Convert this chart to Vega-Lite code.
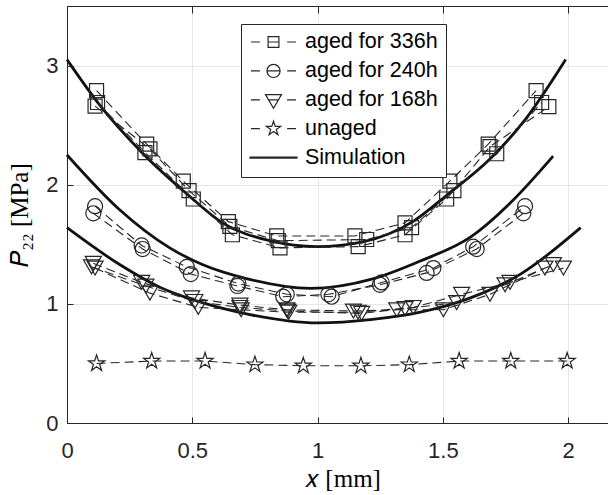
{
  "$schema": "https://vega.github.io/schema/vega-lite/v6.json",
  "width": 541,
  "height": 417,
  "autosize": {"type": "none"},
  "padding": {"left": 67, "top": 6, "right": 0, "bottom": 72},
  "background": "white",
  "config": {
    "view": {"stroke": null},
    "axis": {
      "labelFont": "Liberation Sans",
      "labelFontSize": 22,
      "labelColor": "#262626",
      "labelFlush": false,
      "labelOverlap": false,
      "domainColor": "#262626",
      "domainWidth": 1,
      "tickColor": "#262626",
      "tickWidth": 1,
      "tickSize": -6,
      "gridColor": "#e6e6e6",
      "gridWidth": 1,
      "titleFont": "Liberation Serif",
      "titleFontSize": 25,
      "titleFontWeight": "normal",
      "titleColor": "#000000"
    }
  },
  "datasets": {
    "sim": [
      {"curve": "s1", "x": 0.0, "y": 3.05}, {"curve": "s1", "x": 0.13, "y": 2.67}, {"curve": "s1", "x": 0.29, "y": 2.29},
      {"curve": "s1", "x": 0.48, "y": 1.92}, {"curve": "s1", "x": 0.62, "y": 1.68}, {"curve": "s1", "x": 0.81, "y": 1.53},
      {"curve": "s1", "x": 1.0, "y": 1.48}, {"curve": "s1", "x": 1.18, "y": 1.52}, {"curve": "s1", "x": 1.38, "y": 1.69},
      {"curve": "s1", "x": 1.52, "y": 1.92}, {"curve": "s1", "x": 1.69, "y": 2.22}, {"curve": "s1", "x": 1.83, "y": 2.55},
      {"curve": "s1", "x": 1.99, "y": 3.05},
      {"curve": "s2", "x": 0.0, "y": 2.25}, {"curve": "s2", "x": 0.21, "y": 1.79}, {"curve": "s2", "x": 0.41, "y": 1.47},
      {"curve": "s2", "x": 0.54, "y": 1.33}, {"curve": "s2", "x": 0.72, "y": 1.21}, {"curve": "s2", "x": 0.97, "y": 1.13},
      {"curve": "s2", "x": 1.22, "y": 1.21}, {"curve": "s2", "x": 1.41, "y": 1.36}, {"curve": "s2", "x": 1.61, "y": 1.56},
      {"curve": "s2", "x": 1.78, "y": 1.87}, {"curve": "s2", "x": 1.94, "y": 2.24},
      {"curve": "s3", "x": 0.0, "y": 1.64}, {"curve": "s3", "x": 0.21, "y": 1.33}, {"curve": "s3", "x": 0.37, "y": 1.14},
      {"curve": "s3", "x": 0.54, "y": 1.01}, {"curve": "s3", "x": 0.73, "y": 0.91}, {"curve": "s3", "x": 1.0, "y": 0.84},
      {"curve": "s3", "x": 1.22, "y": 0.87}, {"curve": "s3", "x": 1.41, "y": 0.93}, {"curve": "s3", "x": 1.61, "y": 1.05},
      {"curve": "s3", "x": 1.81, "y": 1.25}, {"curve": "s3", "x": 2.05, "y": 1.64}
    ],
    "exp": [
      {"group": "aged for 336h", "rep": 1, "x": 0.118, "y": 2.79}, {"group": "aged for 336h", "rep": 1, "x": 0.318, "y": 2.34},
      {"group": "aged for 336h", "rep": 1, "x": 0.464, "y": 2.03}, {"group": "aged for 336h", "rep": 1, "x": 0.644, "y": 1.69},
      {"group": "aged for 336h", "rep": 1, "x": 0.837, "y": 1.57}, {"group": "aged for 336h", "rep": 1, "x": 1.149, "y": 1.57},
      {"group": "aged for 336h", "rep": 1, "x": 1.349, "y": 1.68}, {"group": "aged for 336h", "rep": 1, "x": 1.528, "y": 2.03},
      {"group": "aged for 336h", "rep": 1, "x": 1.681, "y": 2.34}, {"group": "aged for 336h", "rep": 1, "x": 1.872, "y": 2.79},
      {"group": "aged for 336h", "rep": 2, "x": 0.112, "y": 2.66}, {"group": "aged for 336h", "rep": 2, "x": 0.331, "y": 2.30},
      {"group": "aged for 336h", "rep": 2, "x": 0.487, "y": 1.95}, {"group": "aged for 336h", "rep": 2, "x": 0.650, "y": 1.65},
      {"group": "aged for 336h", "rep": 2, "x": 0.843, "y": 1.53}, {"group": "aged for 336h", "rep": 2, "x": 1.196, "y": 1.54},
      {"group": "aged for 336h", "rep": 2, "x": 1.375, "y": 1.64}, {"group": "aged for 336h", "rep": 2, "x": 1.544, "y": 1.95},
      {"group": "aged for 336h", "rep": 2, "x": 1.715, "y": 2.26}, {"group": "aged for 336h", "rep": 2, "x": 1.894, "y": 2.69},
      {"group": "aged for 336h", "rep": 3, "x": 0.122, "y": 2.69}, {"group": "aged for 336h", "rep": 3, "x": 0.311, "y": 2.27},
      {"group": "aged for 336h", "rep": 3, "x": 0.504, "y": 1.88}, {"group": "aged for 336h", "rep": 3, "x": 0.660, "y": 1.58},
      {"group": "aged for 336h", "rep": 3, "x": 0.850, "y": 1.47}, {"group": "aged for 336h", "rep": 3, "x": 1.162, "y": 1.48},
      {"group": "aged for 336h", "rep": 3, "x": 1.349, "y": 1.58}, {"group": "aged for 336h", "rep": 3, "x": 1.515, "y": 1.88},
      {"group": "aged for 336h", "rep": 3, "x": 1.688, "y": 2.32}, {"group": "aged for 336h", "rep": 3, "x": 1.923, "y": 2.655},
      {"group": "aged for 240h", "rep": 1, "x": 0.112, "y": 1.82}, {"group": "aged for 240h", "rep": 1, "x": 0.298, "y": 1.49},
      {"group": "aged for 240h", "rep": 1, "x": 0.478, "y": 1.31}, {"group": "aged for 240h", "rep": 1, "x": 0.684, "y": 1.17},
      {"group": "aged for 240h", "rep": 1, "x": 0.877, "y": 1.08}, {"group": "aged for 240h", "rep": 1, "x": 1.056, "y": 1.06},
      {"group": "aged for 240h", "rep": 1, "x": 1.256, "y": 1.18}, {"group": "aged for 240h", "rep": 1, "x": 1.462, "y": 1.30},
      {"group": "aged for 240h", "rep": 1, "x": 1.621, "y": 1.48}, {"group": "aged for 240h", "rep": 1, "x": 1.828, "y": 1.82},
      {"group": "aged for 240h", "rep": 2, "x": 0.105, "y": 1.76}, {"group": "aged for 240h", "rep": 2, "x": 0.302, "y": 1.46},
      {"group": "aged for 240h", "rep": 2, "x": 0.494, "y": 1.25}, {"group": "aged for 240h", "rep": 2, "x": 0.680, "y": 1.15},
      {"group": "aged for 240h", "rep": 2, "x": 0.863, "y": 1.06}, {"group": "aged for 240h", "rep": 2, "x": 1.043, "y": 1.08},
      {"group": "aged for 240h", "rep": 2, "x": 1.249, "y": 1.16}, {"group": "aged for 240h", "rep": 2, "x": 1.435, "y": 1.26},
      {"group": "aged for 240h", "rep": 2, "x": 1.635, "y": 1.46}, {"group": "aged for 240h", "rep": 2, "x": 1.821, "y": 1.76},
      {"group": "aged for 168h", "rep": 1, "x": 0.105, "y": 1.34}, {"group": "aged for 168h", "rep": 1, "x": 0.298, "y": 1.18},
      {"group": "aged for 168h", "rep": 1, "x": 0.497, "y": 1.05}, {"group": "aged for 168h", "rep": 1, "x": 0.690, "y": 0.99},
      {"group": "aged for 168h", "rep": 1, "x": 0.877, "y": 0.95}, {"group": "aged for 168h", "rep": 1, "x": 1.143, "y": 0.94},
      {"group": "aged for 168h", "rep": 1, "x": 1.316, "y": 0.95}, {"group": "aged for 168h", "rep": 1, "x": 1.502, "y": 0.95},
      {"group": "aged for 168h", "rep": 1, "x": 1.688, "y": 1.08}, {"group": "aged for 168h", "rep": 1, "x": 1.907, "y": 1.30},
      {"group": "aged for 168h", "rep": 2, "x": 0.098, "y": 1.31}, {"group": "aged for 168h", "rep": 2, "x": 0.315, "y": 1.15},
      {"group": "aged for 168h", "rep": 2, "x": 0.510, "y": 1.02}, {"group": "aged for 168h", "rep": 2, "x": 0.690, "y": 0.97},
      {"group": "aged for 168h", "rep": 2, "x": 0.880, "y": 0.94}, {"group": "aged for 168h", "rep": 2, "x": 1.176, "y": 0.92},
      {"group": "aged for 168h", "rep": 2, "x": 1.349, "y": 0.96}, {"group": "aged for 168h", "rep": 2, "x": 1.555, "y": 1.01},
      {"group": "aged for 168h", "rep": 2, "x": 1.748, "y": 1.16}, {"group": "aged for 168h", "rep": 2, "x": 1.941, "y": 1.33},
      {"group": "aged for 168h", "rep": 3, "x": 0.112, "y": 1.30}, {"group": "aged for 168h", "rep": 3, "x": 0.331, "y": 1.09},
      {"group": "aged for 168h", "rep": 3, "x": 0.524, "y": 0.97}, {"group": "aged for 168h", "rep": 3, "x": 0.695, "y": 0.95},
      {"group": "aged for 168h", "rep": 3, "x": 0.885, "y": 0.93}, {"group": "aged for 168h", "rep": 3, "x": 1.162, "y": 0.93},
      {"group": "aged for 168h", "rep": 3, "x": 1.382, "y": 0.97}, {"group": "aged for 168h", "rep": 3, "x": 1.575, "y": 1.08},
      {"group": "aged for 168h", "rep": 3, "x": 1.768, "y": 1.18}, {"group": "aged for 168h", "rep": 3, "x": 1.981, "y": 1.30},
      {"group": "unaged", "rep": 1, "x": 0.118, "y": 0.50}, {"group": "unaged", "rep": 1, "x": 0.338, "y": 0.52},
      {"group": "unaged", "rep": 1, "x": 0.551, "y": 0.52}, {"group": "unaged", "rep": 1, "x": 0.750, "y": 0.49},
      {"group": "unaged", "rep": 1, "x": 0.943, "y": 0.48}, {"group": "unaged", "rep": 1, "x": 1.173, "y": 0.48},
      {"group": "unaged", "rep": 1, "x": 1.366, "y": 0.49}, {"group": "unaged", "rep": 1, "x": 1.565, "y": 0.52},
      {"group": "unaged", "rep": 1, "x": 1.771, "y": 0.52}, {"group": "unaged", "rep": 1, "x": 1.996, "y": 0.52}
    ]
  },
  "layer": [
    {
      "data": {"name": "sim"},
      "mark": {"type": "line", "color": "#111111", "strokeWidth": 2.8, "interpolate": "monotone"},
      "encoding": {
        "x": {
          "field": "x", "type": "quantitative",
          "scale": {"domain": [0, 2.159], "nice": false, "zero": false},
          "axis": {"orient": "top", "labels": false, "grid": false, "title": null, "tickSize": -7, "values": [0, 0.5, 1, 1.5, 2]}
        },
        "y": {
          "field": "y", "type": "quantitative",
          "scale": {"domain": [0, 3.5], "nice": false},
          "axis": {
            "orient": "left", "values": [0, 1, 2, 3], "format": "~g", "grid": true, "tickSize": -6, "labelPadding": 15,
            "title": "𝑃₂₂ [MPa]", "titleAngle": -90, "titleAlign": "center", "titleBaseline": "alphabetic",
            "titleX": -40, "titleY": 208.5
          }
        },
        "detail": {"field": "curve"}
      }
    },
    {
      "layer": [
        {
          "data": {"name": "exp"},
          "mark": {"type": "line", "color": "#262626", "strokeWidth": 1.1, "strokeDash": [9, 5]},
          "encoding": {
            "x": {
              "field": "x", "type": "quantitative",
              "axis": {
                "orient": "bottom", "values": [0, 0.5, 1, 1.5, 2], "format": "~g", "grid": true, "tickSize": -6, "labelPadding": 23,
                "title": "𝑥 [mm]", "titleX": 275.5, "titleY": 63.5, "titleAlign": "center", "titleBaseline": "alphabetic"
              }
            },
            "y": {"field": "y", "type": "quantitative"},
            "detail": [{"field": "group"}, {"field": "rep"}]
          }
        },
        {
          "data": {"name": "exp"},
          "mark": {"type": "point", "filled": false, "strokeWidth": 1.2, "color": "#262626", "opacity": 1},
          "encoding": {
            "x": {"field": "x", "type": "quantitative"},
            "y": {"field": "y", "type": "quantitative"},
            "shape": {
              "field": "group", "type": "nominal", "legend": null,
              "scale": {
                "domain": ["aged for 336h", "aged for 240h", "aged for 168h", "unaged"],
                "range": ["square", "circle", "triangle-down", "M0,-1L0.2245,-0.309L0.951,-0.309L0.3633,0.118L0.588,0.809L0,0.382L-0.588,0.809L-0.3633,0.118L-0.951,-0.309L-0.2245,-0.309Z"]
              }
            },
            "size": {
              "field": "group", "type": "ordinal", "legend": null,
              "scale": {
                "domain": ["aged for 336h", "aged for 240h", "aged for 168h", "unaged"],
                "range": [196, 289, 361, 400]
              }
            }
          }
        }
      ]
    },
    {
      "data": {"name": "exp"},
      "transform": [{"filter": "false"}],
      "mark": {"type": "point", "filled": false, "color": "#262626", "opacity": 1},
      "encoding": {
        "shape": {
          "field": "group", "type": "nominal",
          "scale": {
            "domain": ["aged for 336h", "aged for 240h", "aged for 168h", "unaged", "Simulation"],
            "range": [
              "M-0.96,0H-0.58M0.58,0H0.96M-0.23,-0.23H0.23V0.23H-0.23ZM-0.23,0H0.23",
              "M-0.96,0H-0.58M0.58,0H0.96M-0.28,0A0.28,0.28,0,1,0,0.28,0A0.28,0.28,0,1,0,-0.28,0ZM-0.28,0H0.28",
              "M-0.96,0H-0.58M0.58,0H0.96M-0.34,-0.22H0.34L0,0.36ZM-0.21,0H0.21",
              "M-0.96,0H-0.58M0.58,0H0.96M0,-0.32L0.072,-0.099L0.304,-0.099L0.116,0.038L0.188,0.259L0,0.122L-0.188,0.259L-0.116,0.038L-0.304,-0.099L-0.072,-0.099Z",
              "M-1,-0.025H1V0.025H-1Z"
            ]
          },
          "legend": {
            "orient": "none", "legendX": 174, "legendY": 18, "title": null,
            "symbolSize": 2209, "clipHeight": 20, "rowPadding": 6.9, "padding": 8,
            "labelFont": "Liberation Sans", "labelFontSize": 21.5, "labelColor": "#000000", "labelOffset": 7, "labelLimit": 300,
            "strokeColor": "#262626", "fillColor": "white",
            "symbolStrokeColor": "#262626", "symbolFillColor": "transparent", "symbolStrokeWidth": 1.2
          }
        }
      }
    }
  ],
  "resolve": {"scale": {"shape": "independent", "size": "independent"}, "legend": {"shape": "independent"}}
}
